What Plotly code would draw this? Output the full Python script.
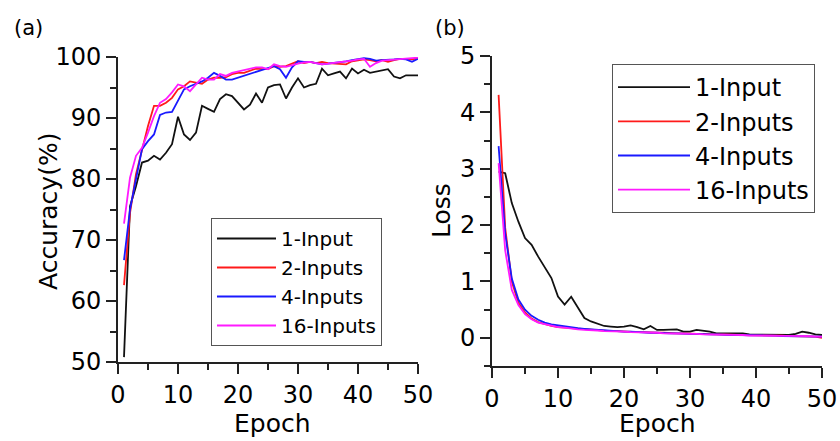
import plotly.graph_objects as go

epochs = list(range(1, 51))

acc_1 = [50.8, 75.5, 78.8, 82.7, 83.0, 83.8, 83.2, 84.3, 85.7, 90.2,
         87.3, 86.4, 87.6, 92.0, 91.5, 91.0, 93.1, 93.9, 93.6, 92.5,
         91.4, 92.2, 94.0, 92.5, 95.0, 95.4, 95.5, 93.2, 95.0, 96.5,
         95.0, 95.4, 95.6, 98.1, 97.0, 97.3, 97.6, 96.5, 98.1, 97.3,
         97.9, 97.4, 97.6, 97.7, 98.0, 96.8, 96.5, 97.0, 97.0, 97.0]
acc_2 = [62.6, 74.4, 80.8, 84.6, 88.7, 92.0, 92.0, 92.5, 93.3, 94.7,
         95.2, 96.0, 95.8, 95.6, 96.3, 96.6, 96.6, 96.7, 97.2, 97.4,
         97.4, 97.8, 98.1, 98.0, 98.0, 98.5, 98.4, 98.5, 98.9, 99.3,
         99.0, 99.2, 99.0, 99.2, 99.0, 98.9, 98.8, 98.8, 99.3, 99.5,
         99.6, 99.5, 99.3, 99.5, 99.2, 99.5, 99.7, 99.7, 99.6, 99.8]
acc_4 = [66.7, 75.0, 80.0, 84.9, 86.2, 87.3, 90.5, 90.9, 91.0, 92.8,
         94.7, 95.2, 95.6, 96.0, 96.6, 97.4, 96.9, 96.3, 96.3, 96.6,
         96.9, 97.3, 97.5, 97.8, 98.1, 98.5, 98.0, 96.6, 98.3, 99.3,
         99.2, 99.2, 99.0, 98.8, 98.9, 99.0, 99.1, 99.3, 99.5, 99.7,
         99.8, 99.7, 99.4, 99.5, 99.5, 99.6, 99.7, 99.6, 99.2, 99.7]
acc_16 = [72.7, 80.2, 83.8, 85.1, 87.6, 90.3, 92.5, 93.1, 94.2, 95.5,
          95.2, 94.4, 95.5, 96.6, 96.3, 96.3, 97.2, 96.9, 97.4, 97.6,
          97.8, 98.0, 98.3, 98.3, 98.0, 98.8, 98.5, 98.4, 98.7, 98.9,
          99.1, 99.2, 99.0, 98.8, 98.9, 99.0, 99.1, 99.2, 99.4, 99.6,
          99.7, 98.4, 99.0, 99.4, 99.5, 99.6, 99.7, 99.7, 99.8, 99.9]

loss_1 = [2.95, 2.92, 2.39, 2.06, 1.77, 1.65, 1.44, 1.24, 1.06, 0.73,
          0.59, 0.73, 0.53, 0.35, 0.29, 0.25, 0.21, 0.20, 0.19, 0.20,
          0.22, 0.19, 0.15, 0.21, 0.14, 0.14, 0.14, 0.15, 0.11, 0.11,
          0.14, 0.13, 0.11, 0.08, 0.08, 0.08, 0.07, 0.08, 0.06, 0.06,
          0.06, 0.06, 0.06, 0.06, 0.05, 0.07, 0.11, 0.09, 0.06, 0.05]
loss_2 = [4.31, 1.95, 1.00, 0.62, 0.45, 0.34, 0.28, 0.24, 0.21, 0.19,
          0.18, 0.17, 0.16, 0.15, 0.14, 0.13, 0.13, 0.12, 0.12, 0.11,
          0.11, 0.10, 0.10, 0.09, 0.09, 0.09, 0.08, 0.08, 0.08, 0.07,
          0.07, 0.07, 0.06, 0.06, 0.06, 0.05, 0.05, 0.05, 0.05, 0.04,
          0.04, 0.04, 0.04, 0.04, 0.03, 0.03, 0.03, 0.03, 0.02, 0.00]
loss_4 = [3.40, 1.85, 1.05, 0.68, 0.50, 0.39, 0.32, 0.27, 0.24, 0.22,
          0.20, 0.18, 0.17, 0.16, 0.15, 0.14, 0.13, 0.12, 0.12, 0.11,
          0.11, 0.10, 0.10, 0.09, 0.09, 0.08, 0.08, 0.08, 0.07, 0.07,
          0.07, 0.06, 0.06, 0.06, 0.05, 0.05, 0.05, 0.05, 0.04, 0.04,
          0.04, 0.04, 0.04, 0.03, 0.03, 0.03, 0.03, 0.03, 0.03, 0.02]
loss_16 = [3.10, 1.55, 0.85, 0.58, 0.42, 0.33, 0.27, 0.24, 0.21, 0.19,
           0.18, 0.16, 0.15, 0.14, 0.14, 0.13, 0.12, 0.12, 0.11, 0.11,
           0.10, 0.10, 0.09, 0.09, 0.09, 0.08, 0.08, 0.08, 0.07, 0.07,
           0.07, 0.06, 0.06, 0.06, 0.05, 0.05, 0.05, 0.05, 0.04, 0.04,
           0.04, 0.04, 0.04, 0.03, 0.03, 0.03, 0.03, 0.03, 0.02, 0.02]

names = ["1-Input", "2-Inputs", "4-Inputs", "16-Inputs"]
colors = ["#111111", "#ff1a1a", "#1a1aff", "#ff1aff"]
acc_series = [acc_1, acc_2, acc_4, acc_16]
loss_series = [loss_1, loss_2, loss_4, loss_16]

W, H = 840, 441
FONT = "DejaVu Sans"

fig = go.Figure()
for n, c, s in zip(names, colors, acc_series):
    fig.add_trace(go.Scatter(x=epochs, y=s, mode="lines", name=n,
                             line=dict(color=c, width=1.8),
                             xaxis="x", yaxis="y", legend="legend"))
for n, c, s in zip(names, colors, loss_series):
    fig.add_trace(go.Scatter(x=epochs, y=s, mode="lines", name=n,
                             line=dict(color=c, width=1.8),
                             xaxis="x2", yaxis="y2", legend="legend2"))

minor = dict(ticks="outside", ticklen=6, tickwidth=1.8, tickcolor="#222")
axis_common = dict(showline=True, linecolor="#222", linewidth=2,
                   ticks="outside", ticklen=10, tickwidth=1.8, tickcolor="#222",
                   showgrid=False, zeroline=False,
                   tickfont=dict(family=FONT, size=24, color="black"),
                   automargin=False)

fig.update_layout(
    width=W, height=H,
    margin=dict(l=0, r=0, t=0, b=0),
    paper_bgcolor="white", plot_bgcolor="white",
    showlegend=True,
    xaxis=dict(domain=[118 / W, 418 / W], range=[0, 50], dtick=10, anchor="y",
               minor=dict(dtick=5, **minor), **axis_common),
    yaxis=dict(domain=[1 - 362 / H, 1 - 57 / H], range=[50, 100], dtick=10, anchor="x",
               minor=dict(dtick=5, **minor), **axis_common),
    xaxis2=dict(domain=[492 / W, 822 / W], range=[0, 50], dtick=10, anchor="y2",
                minor=dict(dtick=5, **minor), **axis_common),
    yaxis2=dict(domain=[1 - 366 / H, 1 - 56 / H], range=[-0.5, 5], dtick=1, anchor="x2",
                minor=dict(dtick=0.5, **minor), **axis_common),
    legend=dict(x=211 / W, y=1 - 218 / H, xanchor="left", yanchor="top",
                bgcolor="white", bordercolor="#555", borderwidth=1,
                font=dict(family=FONT, size=20, color="black"), itemwidth=59,
                tracegroupgap=0),
    legend2=dict(x=612 / W, y=1 - 64 / H, xanchor="left", yanchor="top",
                 bgcolor="white", bordercolor="#555", borderwidth=1,
                 font=dict(family=FONT, size=24, color="black"), itemwidth=72,
                 tracegroupgap=0),
)

ann = dict(xref="paper", yref="paper", showarrow=False,
           font=dict(family=FONT, size=25, color="black"))
small = dict(family=FONT, size=21, color="black")
fig.add_annotation(text="(a)", x=12 / W, y=1 - 28 / H, xanchor="left", yanchor="middle",
                   **{**ann, "font": small})
fig.add_annotation(text="(b)", x=433 / W, y=1 - 28 / H, xanchor="left", yanchor="middle",
                   **{**ann, "font": small})
fig.add_annotation(text="Accuracy(%)", x=49 / W, y=1 - 212 / H, xanchor="center",
                   yanchor="middle", textangle=-90, **ann)
fig.add_annotation(text="Epoch", x=272 / W, y=1 - 423 / H, xanchor="center",
                   yanchor="middle", **ann)
fig.add_annotation(text="Loss", x=441 / W, y=1 - 211 / H, xanchor="center",
                   yanchor="middle", textangle=-90, **ann)
fig.add_annotation(text="Epoch", x=657 / W, y=1 - 423 / H, xanchor="center",
                   yanchor="middle", **ann)

fig.write_html("out.html", config={"displayModeBar": False},
               post_script="document.body.style.margin='0';document.body.style.overflow='hidden';")
